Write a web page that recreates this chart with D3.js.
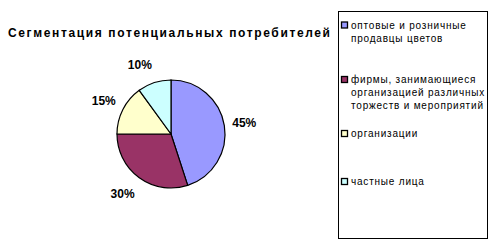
<!DOCTYPE html>
<html><head><meta charset="utf-8">
<script src="https://cdn.jsdelivr.net/npm/d3@7"></script>
<style>
html,body{margin:0;padding:0;background:#fff;}
svg{display:block;}
</style></head>
<body>
<script>
const title = "Сегментация потенциальных потребителей";
const categories = [
  ["оптовые и розничные", "продавцы цветов"],
  ["фирмы, занимающиеся", "организацией различных", "торжеств и мероприятий"],
  ["организации"],
  ["частные лица"]
];
const values = [45, 30, 15, 10];
const colors = ["#9999FF", "#993366", "#FFFFCC", "#CCFFFF"];

const W = 496, H = 240;
const svg = d3.select("body").append("svg").attr("width", W).attr("height", H);
svg.append("rect").attr("width", W).attr("height", H).attr("fill", "#fff");

// Title
svg.append("text")
  .attr("x", 8).attr("y", 37)
  .attr("font-family", "Arial, 'Liberation Sans', sans-serif")
  .attr("font-weight", "bold").attr("font-size", 12)
  .attr("textLength", 322).attr("lengthAdjust", "spacing")
  .text(title);

// Pie
const cx = 171, cy = 134, R = 54;
const total = d3.sum(values);
const pie = d3.pie().sort(null).value(d => d)(values);
const arc = d3.arc().innerRadius(0).outerRadius(R);
const g = svg.append("g").attr("transform", `translate(${cx},${cy})`);
g.selectAll("path").data(pie).join("path")
  .attr("d", arc)
  .attr("fill", (d, i) => colors[i])
  .attr("stroke", "#000").attr("stroke-width", 1.2);

const labelArc = d3.arc().innerRadius(R + 8).outerRadius(R + 8);
g.selectAll("text.lbl").data(pie).join("text")
  .attr("class", "lbl")
  .each(function(d) {
    const a = (d.startAngle + d.endAngle) / 2;
    const [x, y] = labelArc.centroid(d);
    d3.select(this)
      .attr("x", x)
      .attr("y", y - Math.cos(a) * 11 + 4.5)
      .attr("text-anchor", Math.sin(a) >= 0 ? "start" : "end");
  })
  .attr("font-family", "Arial, 'Liberation Sans', sans-serif")
  .attr("font-weight", "bold").attr("font-size", 12)
  .text(d => Math.round(d.data / total * 100) + "%");

// Legend
const lx = 338, ly = 11, lw = 149, lh = 227;
svg.append("rect").attr("x", lx + 0.5).attr("y", ly + 0.5)
  .attr("width", lw).attr("height", lh)
  .attr("fill", "#fff").attr("stroke", "#000").attr("stroke-width", 1);

const lineH = 13;
const firstBaselines = [28.5, 83, 137, 185];
const leg = svg.append("g");
categories.forEach((lines, i) => {
  const by = firstBaselines[i];
  leg.append("rect")
    .attr("x", lx + 3.5).attr("y", by - 6.5)
    .attr("width", 6).attr("height", 6)
    .attr("fill", colors[i]).attr("stroke", "#000").attr("stroke-width", 1.3);
  const t = leg.append("text")
    .attr("font-family", "Arial, 'Liberation Sans', sans-serif")
    .attr("font-size", 10)
    .attr("letter-spacing", 0.8);
  lines.forEach((ln, j) => {
    t.append("tspan").attr("x", lx + 13).attr("y", by + j * lineH).text(ln);
  });
});
</script>
</body></html>
